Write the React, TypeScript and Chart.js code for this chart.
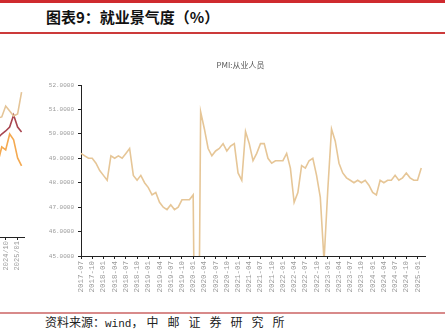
import React, { useEffect, useRef } from "react";
import { Chart, registerables } from "chart.js";

Chart.register(...registerables);

// ---------- main chart data: PMI 从业人员 (monthly, 2017-07 .. 2025-02) ----------
const START_YEAR = 2017;
const START_MONTH = 7;
const MONTH_SLOTS = 93; // axis runs one slot past the last observation
const monthLabels: string[] = [];
for (let i = 0; i < MONTH_SLOTS; i++) {
  const m = START_MONTH - 1 + i;
  const y = START_YEAR + Math.floor(m / 12);
  const mm = (m % 12) + 1;
  monthLabels.push(`${y}-${String(mm).padStart(2, "0")}`);
}

const employment2017 = [49.2, 49.1, 49.0, 49.0, 48.8, 48.5];
const employment2018 = [48.3, 48.1, 49.1, 49.0, 49.1, 49.0, 49.2, 49.4, 48.3, 48.1, 48.3, 48.0];
const employment2019 = [47.8, 47.5, 47.6, 47.2, 47.0, 46.9, 47.1, 46.9, 47.0, 47.3, 47.3, 47.3];
const employment2020 = [47.5, 31.8, 50.9, 50.2, 49.4, 49.1, 49.3, 49.4, 49.6, 49.3, 49.5, 49.6];
const employment2021 = [48.4, 48.1, 50.1, 49.6, 48.9, 49.2, 49.6, 49.6, 49.0, 48.8, 48.9, 48.9];
const employment2022 = [48.9, 49.2, 48.6, 47.2, 47.6, 48.7, 48.6, 48.9, 49.0, 48.3, 47.4, 44.8];
const employment2023 = [47.7, 50.2, 49.7, 48.8, 48.4, 48.2, 48.1, 48.0, 48.1, 48.0, 48.1, 47.9];
const employment2024 = [47.6, 47.5, 48.1, 48.0, 48.1, 48.1, 48.3, 48.1, 48.2, 48.4, 48.2, 48.1];
const employment2025 = [48.1, 48.6];
const employment = [
  ...employment2017, ...employment2018, ...employment2019, ...employment2020,
  ...employment2021, ...employment2022, ...employment2023, ...employment2024, ...employment2025,
];
const yTickValues = [45, 46, 47, 48, 49, 50, 51, 52];

// ---------- neighbouring (cropped) chart at the left edge ----------
const leftMonths = [
  "2024/03", "2024/04", "2024/05", "2024/06", "2024/07", "2024/08",
  "2024/09", "2024/10", "2024/11", "2024/12", "2025/01", "2025/02",
];
const leftTickIdx = [4, 7, 10];
const leftIdx = [4, 5, 6, 7, 8, 9, 10, 11];
const leftTan = [50.21, 50.26, 50.32, 50.89, 50.63, 50.37, 50.47, 51.63];
const leftRed = [49.11, 49.21, 49.42, 49.58, 49.79, 50.42, 49.79, 49.53];
const leftOrange = [47.79, 47.89, 48.74, 48.58, 49.42, 49.11, 48.16, 47.74];

const LINE = "#e6c697";
const AXIS = "#222222";
const TICK_TEXT = "#9a9a9a";
const MONO = "'Liberation Mono', 'DejaVu Sans Mono', monospace";

function MainChart() {
  const ref = useRef<HTMLCanvasElement>(null);
  useEffect(() => {
    const chart = new Chart(ref.current!, {
      type: "line",
      data: {
        labels: monthLabels,
        datasets: [
          {
            data: employment,
            borderColor: LINE,
            borderWidth: 1.6,
            pointRadius: 0,
            tension: 0,
            fill: false,
          },
        ],
      },
      options: {
        animation: false,
        responsive: false,
        devicePixelRatio: 1,
        layout: { padding: { top: 45, right: 20, bottom: 6, left: 0 } },
        plugins: {
          legend: { display: false },
          tooltip: { enabled: false },
        },
        scales: {
          x: {
            type: "category",
            offset: false,
            afterFit: (s: any) => {
              s.height = 48;
            },
            border: { display: true, color: AXIS, width: 1 },
            grid: { display: true, drawOnChartArea: false, drawTicks: true, tickLength: 3, color: AXIS },
            ticks: {
              autoSkip: false,
              minRotation: 90,
              maxRotation: 90,
              padding: 2,
              color: TICK_TEXT,
              font: { family: MONO, size: 7.5 },
              callback: (_v: any, i: number) => (i % 3 === 0 ? monthLabels[i] : null),
            },
          },
          y: {
            min: 45,
            max: 52,
            afterFit: (s: any) => {
              s.width = 45;
            },
            afterBuildTicks: (s: any) => {
              s.ticks = yTickValues.map((v) => ({ value: v }));
            },
            border: { display: true, color: AXIS, width: 1 },
            grid: { display: true, drawOnChartArea: false, drawTicks: true, tickLength: 3, color: AXIS },
            ticks: {
              padding: 4,
              color: TICK_TEXT,
              font: { family: MONO, size: 6 },
              callback: (v: any) => Number(v).toFixed(4),
            },
          },
        },
      },
    });
    return () => chart.destroy();
  }, []);
  return (
    <canvas
      ref={ref}
      width={409}
      height={270}
      style={{ position: "absolute", left: 36, top: 40, width: 409, height: 270 }}
    />
  );
}

function LeftChart() {
  const ref = useRef<HTMLCanvasElement>(null);
  useEffect(() => {
    const mk = (vals: number[], color: string) => ({
      data: leftIdx.map((x, i) => ({ x, y: vals[i] })),
      borderColor: color,
      borderWidth: 1.6,
      pointRadius: 0,
      tension: 0,
      fill: false,
    });
    const chart = new Chart(ref.current!, {
      type: "line",
      data: {
        datasets: [mk(leftTan, "#e4c497"), mk(leftRed, "#a8454f"), mk(leftOrange, "#f4a950")],
      },
      options: {
        animation: false,
        responsive: false,
        devicePixelRatio: 1,
        layout: { padding: { top: 45, right: 0, bottom: 33, left: 0 } },
        plugins: { legend: { display: false }, tooltip: { enabled: false } },
        scales: {
          x: {
            type: "linear",
            min: -2,
            max: 11.68,
            afterFit: (s: any) => {
              s.height = 40;
            },
            afterBuildTicks: (s: any) => {
              s.ticks = leftTickIdx.map((v) => ({ value: v }));
            },
            border: { display: true, color: AXIS, width: 1 },
            grid: { display: true, drawOnChartArea: false, drawTicks: true, tickLength: 3, color: AXIS },
            ticks: {
              minRotation: 90,
              maxRotation: 90,
              padding: 1,
              color: TICK_TEXT,
              font: { family: MONO, size: 7 },
              callback: (v: any) => leftMonths[Math.round(Number(v))],
            },
          },
          y: { display: false, min: 44, max: 52 },
        },
      },
    });
    return () => chart.destroy();
  }, []);
  return (
    <div style={{ position: "absolute", left: 0, top: 0, width: 27, height: 336, overflow: "hidden" }}>
      <canvas
        ref={ref}
        width={57}
        height={270}
        style={{ position: "absolute", left: -30, top: 40, width: 57, height: 270 }}
      />
    </div>
  );
}

export default function App() {
  const cjk = "'Noto Sans CJK SC', 'Noto Sans', sans-serif";
  return (
    <div
      style={{
        position: "absolute",
        left: 0,
        top: 0,
        width: 445,
        height: 336,
        overflow: "hidden",
        background: "#ffffff",
        fontFamily: cjk,
      }}
    >
      <div style={{ position: "absolute", left: 0, top: 0, width: 445, height: 3, background: "#cf2a2f" }} />
      <div
        style={{
          position: "absolute",
          left: 46,
          top: 8,
          fontSize: 15,
          fontWeight: 700,
          lineHeight: "18px",
          color: "#111",
          whiteSpace: "nowrap",
        }}
      >
        图表9：就业景气度（%）
      </div>
      <div style={{ position: "absolute", left: 0, top: 32, width: 445, height: 1.5, background: "#cc3a3a" }} />

      <LeftChart />
      <MainChart />

      <div
        style={{
          position: "absolute",
          left: 0,
          width: 445,
          top: 59,
          textAlign: "center",
          paddingLeft: 36,
          boxSizing: "border-box",
          fontSize: 8,
          lineHeight: "12px",
          color: "#555",
          whiteSpace: "nowrap",
        }}
      >
        PMI:从业人员
      </div>

      <div style={{ position: "absolute", left: 0, top: 312, width: 445, height: 1.5, background: "#d88a8a" }} />
      <div
        style={{
          position: "absolute",
          left: 45,
          top: 315,
          fontSize: 12,
          lineHeight: "14px",
          color: "#222",
          whiteSpace: "nowrap",
        }}
      >
        资料来源：
        <span style={{ fontFamily: MONO, fontSize: 11 }}>wind</span>，
        <span style={{ letterSpacing: 9, marginLeft: 3 }}>中邮证券研究所</span>
      </div>
    </div>
  );
}
